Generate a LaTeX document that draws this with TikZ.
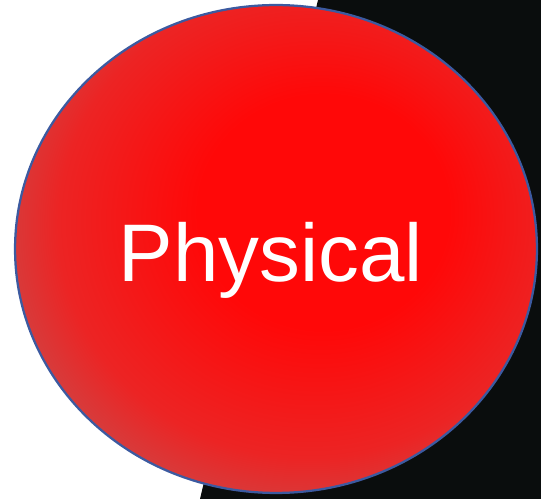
\documentclass[tikz,border=0pt]{standalone}
\usepackage{fontspec}
\setmainfont{Liberation Sans}
\usetikzlibrary{shapes.geometric}

\definecolor{ballred}{RGB}{255,8,8}
\definecolor{ballmid}{RGB}{236,36,36}
\definecolor{ballrim}{RGB}{192,84,84}
\definecolor{ballline}{RGB}{60,90,160}
\definecolor{backdrop}{RGB}{10,13,13}

\pgfdeclareradialshading{ballshade}{\pgfpoint{6bp}{5bp}}{%
  color(0bp)=(ballred); color(12bp)=(ballred);
  color(24bp)=(ballmid); color(33bp)=(ballrim); color(50bp)=(ballrim)}

\begin{document}
\begin{tikzpicture}[x=0.02cm, y=-0.02cm,
    ball/.style={ellipse, draw=ballline, line width=0.045cm,
                 minimum width=10.44cm, minimum height=9.76cm,
                 shading=ballshade},
    balltext/.style={text=white, font=\fontsize{46.5}{56}\selectfont}
  ]
  \useasboundingbox (0,0) rectangle (541,499);

  % dark backdrop on the right
  \fill[backdrop] (318,0) -- (541,0) -- (541,499) -- (200,499) -- cycle;

  % the ball and its label
  \node[ball] (phys) at (276,249) {};
  \node[balltext, anchor=base] (physlbl) at (271,282) {Physical};
\end{tikzpicture}
\end{document}
